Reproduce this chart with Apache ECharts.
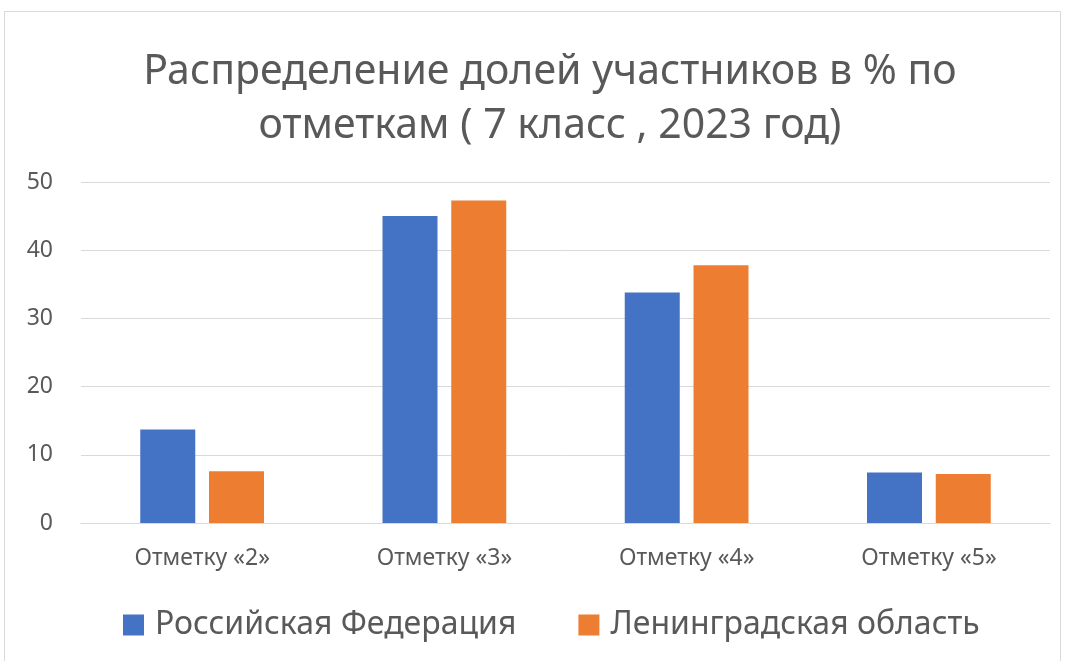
<!DOCTYPE html>
<html>
<head>
<meta charset="utf-8">
<script src="https://cdn.jsdelivr.net/npm/echarts@6/dist/echarts.min.js"></script>
<style>
    html, body { margin: 0; padding: 0; background: #fff; }
    #chart { width: 1066px; height: 661px; }
</style>
</head>
<body>
<div id="chart"></div>
<script>
// данные
const categories = ['Отметку «2»', 'Отметку «3»', 'Отметку «4»', 'Отметку «5»'];
const rfValues = [13.7, 45.0, 33.8, 7.4];
const loValues = [7.6, 47.3, 37.8, 7.2];
const seriesNames = ['Российская Федерация', 'Ленинградская область'];
const yTicks = { min: 0, max: 50, interval: 10 };

const fontName = 'Noto Sans';
const textColor = '#595959';

let myChart = echarts.init(document.getElementById('chart'));
let option = {
    animation: false,
    color: ['#4472C4', '#ED7D31'],
    title: {
        text: 'Распределение долей участников в % по\nотметкам ( 7 класс , 2023 год)',
        left: 545,
        top: 40,
        textAlign: 'center',
        textStyle: {
            fontFamily: fontName,
            fontSize: 41,
            fontWeight: 'normal',
            color: textColor,
            lineHeight: 54
        }
    },
    graphic: [
        {
            type: 'rect',
            shape: { x: 4.5, y: 11.5, width: 1056, height: 660 },
            style: { fill: 'none', stroke: '#d9d9d9', lineWidth: 1 },
            silent: true
        }
    ],
    legend: {
        data: seriesNames,
        left: 118,
        top: 604,
        icon: 'rect',
        itemWidth: 21,
        itemHeight: 21,
        itemGap: 62,
        textStyle: {
            fontFamily: fontName,
            fontSize: 32,
            color: textColor,
            padding: [0, 0, 0, 6]
        }
    },
    grid: {
        left: 81,
        right: 16,
        top: 182,
        bottom: 138
    },
    xAxis: {
        type: 'category',
        data: categories,
        axisTick: { show: false },
        axisLine: { lineStyle: { color: '#d9d9d9', width: 1 } },
        axisLabel: {
            margin: 24,
            fontFamily: fontName,
            fontSize: 23,
            color: textColor
        }
    },
    yAxis: {
        type: 'value',
        min: yTicks.min,
        max: yTicks.max,
        interval: yTicks.interval,
        axisLine: { show: false },
        axisTick: { show: false },
        splitLine: { lineStyle: { color: '#d9d9d9', width: 1 } },
        axisLabel: {
            margin: 28,
            fontFamily: fontName,
            fontSize: 23,
            color: textColor
        }
    },
    series: [
        {
            name: seriesNames[0],
            type: 'bar',
            data: rfValues,
            barWidth: 55,
            barGap: '25%'
        },
        {
            name: seriesNames[1],
            type: 'bar',
            data: loValues,
            barWidth: 55,
            barGap: '25%'
        }
    ]
};
myChart.setOption(option);
</script>
</body>
</html>
